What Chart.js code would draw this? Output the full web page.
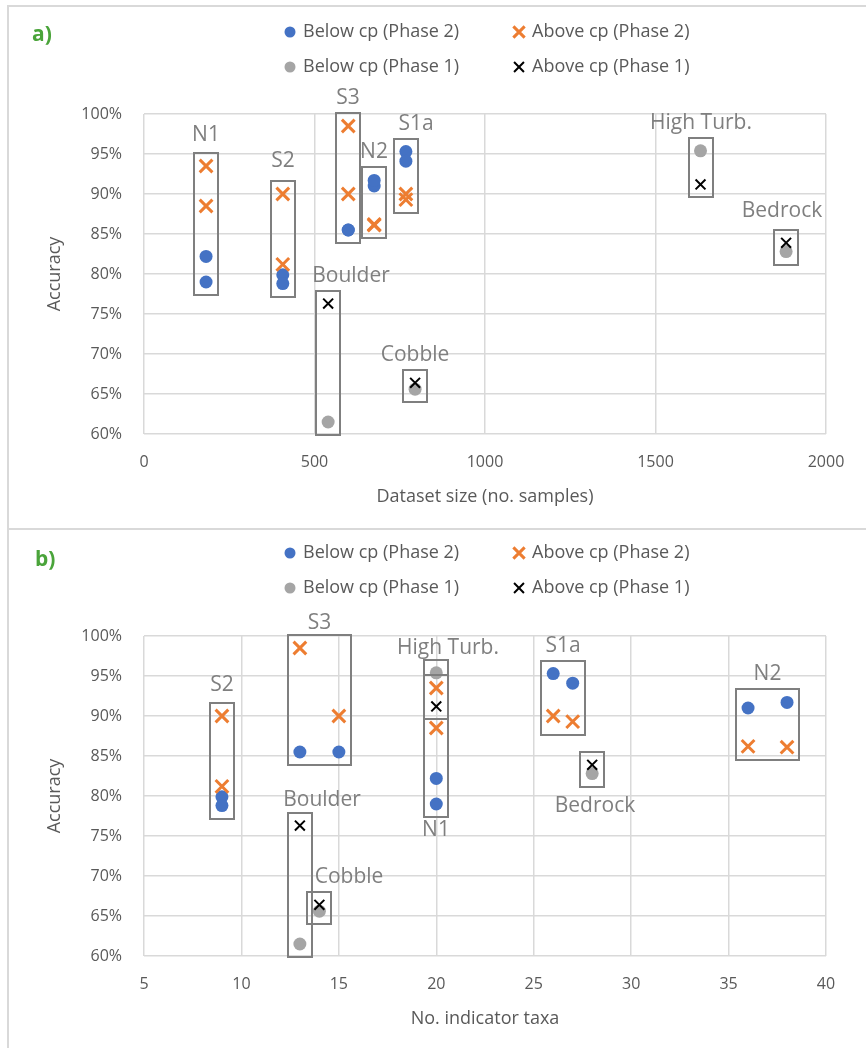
<!DOCTYPE html>
<html>
<head>
<meta charset="utf-8">
<script src="https://cdn.jsdelivr.net/npm/chart.js@4.4.1/dist/chart.umd.min.js"></script>
<style>
  body { margin: 0; background: #fff; }
  #page { position: relative; width: 866px; height: 1048px; overflow: hidden; }
  .frame { position: absolute; left: 7px; top: 5px; right: -10px; bottom: -10px;
           border-left: 2px solid #d9d9d9; border-top: 2px solid #d9d9d9; }
  .divider { position: absolute; left: 7px; right: 0; top: 528px; height: 2px; background: #d9d9d9; }
  canvas { position: absolute; left: 0; }
  #chartA { top: 0; }
  #chartB { top: 531px; }
</style>
</head>
<body>
<div id="page">
  <div class="frame"></div>
  <div class="divider"></div>
  <canvas id="chartA" width="866" height="529"></canvas>
  <canvas id="chartB" width="866" height="517"></canvas>
</div>
<script>
// Phase 2 sites, two samples each
const phase2Sites   = ['N1', 'N1', 'S2', 'S2', 'S3', 'S3', 'N2', 'N2', 'S1a', 'S1a'];
const phase2Samples = [182, 182, 407, 407, 599, 599, 675, 675, 768, 768];
const phase2Taxa    = [20, 20, 9, 9, 13, 15, 36, 38, 26, 27];
const phase2Below   = [82.2, 79.0, 79.9, 78.8, 85.5, 85.5, 91.0, 91.7, 95.3, 94.1];
const phase2Above   = [93.5, 88.5, 90.0, 81.2, 98.5, 90.0, 86.2, 86.1, 90.0, 89.3];

// Phase 1 sites, one sample each
const phase1Sites   = ['Boulder', 'Cobble', 'High Turb.', 'Bedrock'];
const phase1Samples = [540, 795, 1632, 1883];
const phase1Taxa    = [13, 14, 20, 28];
const phase1Below   = [61.5, 65.6, 95.4, 82.8];
const phase1Above   = [76.3, 66.4, 91.2, 83.9];

const seriesNames = ['Below cp (Phase 2)', 'Above cp (Phase 2)', 'Below cp (Phase 1)', 'Above cp (Phase 1)'];

const sizeTicks = [0, 500, 1000, 1500, 2000];
const taxaTicks = [5, 10, 15, 20, 25, 30, 35, 40];
const accTicks  = [60, 65, 70, 75, 80, 85, 90, 95, 100];

Chart.defaults.font.family = '"Open Sans", sans-serif';
Chart.defaults.color = '#595959';

const MARKERS = [
    { style: 'circle',   color: '#4472C4', radius: 6.5, width: 0, legend: 5.5, order: 4 },
    { style: 'crossRot', color: '#ED7D31', radius: 9,   width: 3, legend: 8,   order: 3 },
    { style: 'circle',   color: '#A5A5A5', radius: 6.5, width: 0, legend: 5.5, order: 2 },
    { style: 'crossRot', color: '#000000', radius: 7,   width: 2, legend: 7,   order: 1 },
];

function toPoints(xs, ys) {
    return xs.map((x, i) => ({ x, y: ys[i] }));
}

function makeDatasets(x2, x1) {
    const series = [
        [toPoints(x2, phase2Below), phase2Sites],
        [toPoints(x2, phase2Above), phase2Sites],
        [toPoints(x1, phase1Below), phase1Sites],
        [toPoints(x1, phase1Above), phase1Sites],
    ];
    return series.map(([data, sites], i) => {
        const m = MARKERS[i];
        return {
            label: seriesNames[i],
            data,
            sites,
            order: m.order,
            pointStyle: m.style,
            pointRadius: m.radius,
            pointHoverRadius: m.radius,
            pointBackgroundColor: m.color,
            pointBorderColor: m.color,
            pointBorderWidth: m.width,
        };
    });
}

// boxes round each site's points, with the site name beside them
const groupBoxes = {
    id: 'groupBoxes',
    afterDatasetsDraw(chart, args, opts) {
        const boxes = {};
        chart.data.datasets.forEach((ds, di) => {
            chart.getDatasetMeta(di).data.forEach((pt, i) => {
                const name = ds.sites[i];
                const b = boxes[name] || (boxes[name] = { l: Infinity, r: -Infinity, t: Infinity, b: -Infinity });
                b.l = Math.min(b.l, pt.x); b.r = Math.max(b.r, pt.x);
                b.t = Math.min(b.t, pt.y); b.b = Math.max(b.b, pt.y);
            });
        });
        const ctx = chart.ctx;
        ctx.save();
        ctx.strokeStyle = '#7f7f7f';
        ctx.lineWidth = 2;
        ctx.font = '21px "Open Sans", sans-serif';
        ctx.fillStyle = '#7f7f7f';
        ctx.textAlign = 'center';
        ctx.textBaseline = 'middle';
        for (const [name, b] of Object.entries(boxes)) {
            const x0 = Math.round(b.l - 12), x1 = Math.round(b.r + 12);
            const y0 = Math.round(b.t - 13), y1 = Math.round(b.b + 13);
            ctx.strokeRect(x0, y0, x1 - x0, y1 - y0);
            const tag = opts.labels[name] || {};
            const cx = (x0 + x1) / 2 + (tag.dx || 0);
            const cy = (tag.below ? y1 + 15 : y0 - 15) + (tag.dy || 0);
            ctx.fillText(name, cx, cy);
        }
        ctx.restore();
    }
};

// two-by-two legend plus the panel letter
const pairLegend = {
    id: 'pairLegend',
    afterDraw(chart, args, opts) {
        const ctx = chart.ctx;
        ctx.save();
        ctx.textBaseline = 'middle';
        ctx.textAlign = 'left';
        chart.data.datasets.forEach((ds, i) => {
            const m = MARKERS[i];
            const x = opts.cols[i % 2], y = opts.rows[Math.floor(i / 2)];
            ctx.fillStyle = m.color;
            ctx.strokeStyle = m.color;
            if (m.style === 'circle') {
                ctx.beginPath();
                ctx.arc(x, y, m.legend, 0, Math.PI * 2);
                ctx.fill();
            } else {
                const h = m.legend * 0.707;
                ctx.lineWidth = m.width;
                ctx.beginPath();
                ctx.moveTo(x - h, y - h); ctx.lineTo(x + h, y + h);
                ctx.moveTo(x + h, y - h); ctx.lineTo(x - h, y + h);
                ctx.stroke();
            }
            ctx.fillStyle = '#595959';
            ctx.font = '18px "Open Sans", sans-serif';
            ctx.fillText(ds.label, x + 13, y);
        });
        ctx.font = 'bold 21px "Open Sans", sans-serif';
        ctx.fillStyle = '#4aa43a';
        ctx.fillText(opts.tag, opts.tagX, opts.tagY);
        ctx.restore();
    }
};

function buildChart(id, cfg) {
    const gridStyle = { color: '#d9d9d9', lineWidth: 1.5, drawTicks: false };
    return new Chart(document.getElementById(id), {
        type: 'scatter',
        data: { datasets: makeDatasets(cfg.x2, cfg.x1) },
        options: {
            responsive: false,
            animation: false,
            events: [],
            layout: { padding: { top: cfg.top, right: 40, bottom: 0, left: 0 } },
            plugins: {
                legend: { display: false },
                tooltip: { enabled: false },
                groupBoxes: { labels: cfg.labels },
                pairLegend: { cols: [290, 519], rows: cfg.legendRows, tag: cfg.tag, tagX: cfg.tagX, tagY: cfg.tagY },
            },
            scales: {
                x: {
                    type: 'linear',
                    min: cfg.xTicks[0],
                    max: cfg.xTicks[cfg.xTicks.length - 1],
                    afterBuildTicks: (s) => { s.ticks = cfg.xTicks.map(v => ({ value: v })); },
                    afterFit: (s) => { s.height = cfg.xHeight; },
                    grid: gridStyle,
                    border: { display: false },
                    ticks: { padding: 19, font: { size: 16 }, color: '#595959', callback: (v) => String(v) },
                    title: {
                        display: true, text: cfg.xTitle, color: '#595959',
                        font: { size: 18 }, padding: { top: 0, bottom: cfg.xHeight - 74 },
                    },
                },
                y: {
                    min: accTicks[0],
                    max: accTicks[accTicks.length - 1],
                    afterBuildTicks: (s) => { s.ticks = accTicks.map(v => ({ value: v })); },
                    afterFit: (s) => { s.width = 144; },
                    grid: gridStyle,
                    border: { display: false },
                    ticks: { padding: 22, font: { size: 16 }, color: '#595959', callback: (v) => v + '%' },
                    title: {
                        display: true, text: 'Accuracy', color: '#595959',
                        font: { size: 18 }, padding: { top: 44, bottom: 0 },
                    },
                },
            },
        },
        plugins: [groupBoxes, pairLegend],
    });
}

buildChart('chartA', {
    x2: phase2Samples, x1: phase1Samples, xTicks: sizeTicks,
    xTitle: 'Dataset size (no. samples)',
    top: 114, xHeight: 95,
    legendRows: [32, 67], tag: 'a)', tagX: 32, tagY: 35,
    labels: {
        'N1': { dy: -3 }, 'S2': { dy: -5 }, 'S1a': { dx: 10 },
        'Boulder': { dx: 23 }, 'Bedrock': { dx: -4, dy: -4 },
    },
});

buildChart('chartB', {
    x2: phase2Taxa, x1: phase1Taxa, xTicks: taxaTicks,
    xTitle: 'No. indicator taxa',
    top: 105, xHeight: 92,
    legendRows: [22, 57], tag: 'b)', tagX: 35, tagY: 29,
    labels: {
        'N1': { below: true, dy: -2 }, 'Bedrock': { below: true, dx: 3, dy: 4 },
        'High Turb.': { dx: 12, dy: 3 }, 'S3': { dy: 3 }, 'S2': { dy: -3 },
        'Boulder': { dx: 22, dy: 2 }, 'Cobble': { dx: 30 },
    },
});
</script>
</body>
</html>
